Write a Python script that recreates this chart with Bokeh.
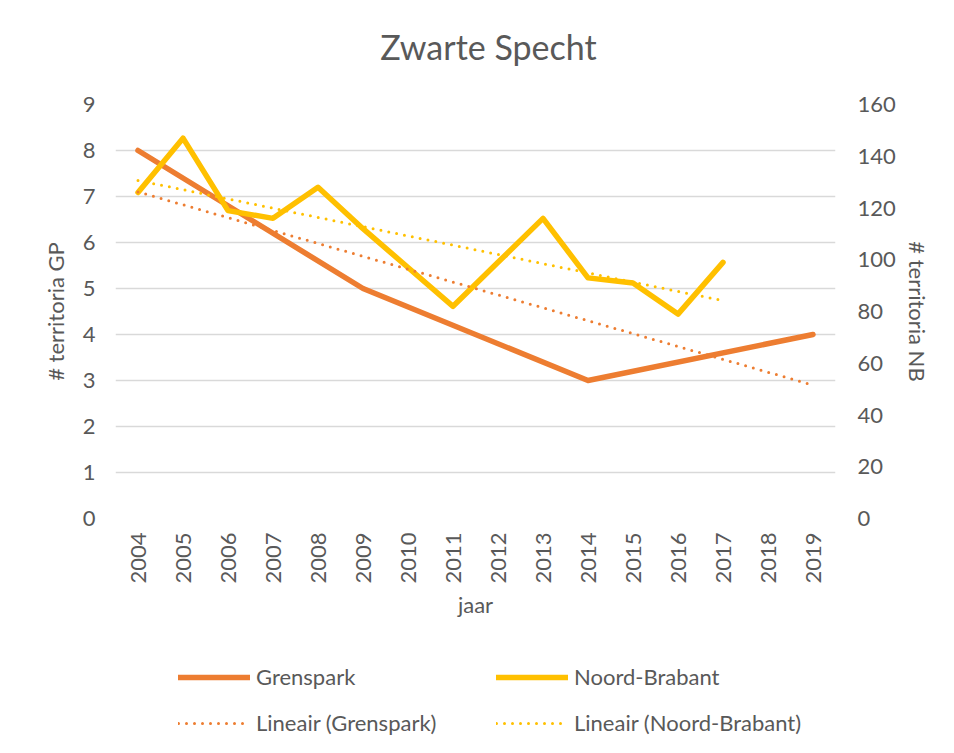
import math
import numpy as np
from bokeh.plotting import figure
from bokeh.layouts import column
from bokeh.models import Range1d, LinearAxis, FixedTicker, Legend, LegendItem, Label
from bokeh.embed import file_html
from bokeh.resources import INLINE

# ---- data ----
chart_title = "Zwarte Specht"
x_title = "jaar"
left_title = "# territoria GP"
right_title = "# territoria NB"
years = list(range(2004, 2020))
gp_years = [2004, 2009, 2014, 2019]
gp_values = [8, 5, 3, 4]
nb_years = list(range(2004, 2018))
nb_values = [126, 147, 119, 116, 128, 112, 97, 82, 99, 116, 93, 91, 79, 99]
left_ticks = list(range(0, 10))
right_ticks = list(range(0, 161, 20))
series_names = ["Grenspark", "Noord-Brabant"]
trend_names = ["Lineair (Grenspark)", "Lineair (Noord-Brabant)"]

# ---- style ----
GP_COLOR = "#ED7D31"
NB_COLOR = "#FFC000"
TEXT = "#595959"
GRID = "#D9D9D9"
FONT = "Lato"
FS = "22px"
SERIES_STYLE = dict(line_width=5.5, line_cap="round", line_join="round")
TREND_STYLE = dict(line_width=3, line_dash="0 8", line_cap="round")
FULL_W = 938
BORDER_L, BORDER_R = 115, 103


def blank_strip(height):
    f = figure(width=FULL_W, height=height, output_backend="svg", toolbar_location=None,
               x_range=Range1d(0, 1), y_range=Range1d(0, 1),
               min_border_left=BORDER_L, min_border_right=BORDER_R,
               min_border_top=0, min_border_bottom=0,
               x_axis_type=None, y_axis_type=None)
    f.outline_line_color = None
    f.xgrid.grid_line_color = None
    f.ygrid.grid_line_color = None
    f.background_fill_color = "white"
    f.border_fill_color = "white"
    return f


# ---- title strip ----
TITLE_H = 80
t = blank_strip(TITLE_H)
t.add_layout(Label(x=0.518, y=(TITLE_H - 46) / TITLE_H, text=chart_title,
                   text_font=FONT, text_font_size="34px", text_color=TEXT,
                   text_align="center", text_baseline="alphabetic"))

# ---- main chart ----
p = figure(frame_width=720, frame_height=414, output_backend="svg", toolbar_location=None,
           x_range=Range1d(years[0] - 0.5, years[-1] + 0.5),
           y_range=Range1d(left_ticks[0], left_ticks[-1]),
           min_border_left=BORDER_L, min_border_right=BORDER_R,
           min_border_top=104 - TITLE_H, min_border_bottom=122)
p.extra_y_ranges = {"nb": Range1d(right_ticks[0], right_ticks[-1])}
p.outline_line_color = None
p.background_fill_color = "white"
p.border_fill_color = "white"


def style_axis(ax, label, standoff_lbl, standoff_ax):
    ax.axis_label = label
    ax.axis_label_text_font = FONT
    ax.axis_label_text_font_size = FS
    ax.axis_label_text_font_style = "normal"
    ax.axis_label_text_color = TEXT
    ax.major_label_text_font = FONT
    ax.major_label_text_font_size = FS
    ax.major_label_text_color = TEXT
    ax.axis_line_color = None
    ax.major_tick_line_color = None
    ax.minor_tick_line_color = None
    ax.major_tick_out = 0
    ax.major_tick_in = 0
    ax.major_label_standoff = standoff_lbl
    ax.axis_label_standoff = standoff_ax


xax = p.xaxis[0]
xax.ticker = FixedTicker(ticks=years)
style_axis(xax, x_title, 14, 4)
xax.major_label_orientation = math.pi / 2

yax = p.yaxis[0]
yax.ticker = FixedTicker(ticks=left_ticks)
style_axis(yax, left_title, 20, 11)

rax = LinearAxis(y_range_name="nb", ticker=FixedTicker(ticks=right_ticks))
style_axis(rax, right_title, 22, 5)
p.add_layout(rax, "right")

p.xgrid.grid_line_color = None
p.ygrid.grid_line_color = GRID
p.ygrid.grid_line_width = 1.3
p.ygrid.ticker = FixedTicker(ticks=left_ticks)

# trendlines (least squares, like Excel "Lineair")
gp_fit = np.polyfit(gp_years, gp_values, 1)
nb_fit = np.polyfit(nb_years, nb_values, 1)
gp_tx = [gp_years[0], gp_years[-1]]
nb_tx = [nb_years[0], nb_years[-1]]
gp_ty = list(np.polyval(gp_fit, gp_tx))
nb_ty = list(np.polyval(nb_fit, nb_tx))

p.line(gp_years, gp_values, line_color=GP_COLOR, **SERIES_STYLE)
p.line(nb_years, nb_values, y_range_name="nb", line_color=NB_COLOR, **SERIES_STYLE)
p.line(gp_tx, gp_ty, line_color=GP_COLOR, **TREND_STYLE)
p.line(nb_tx, nb_ty, y_range_name="nb", line_color=NB_COLOR, **TREND_STYLE)

# ---- legend strip (its line renderers fall outside its 0..1 ranges, only the legend shows) ----
q = blank_strip(105)
l_gp = q.line(gp_years, gp_values, line_color=GP_COLOR, **SERIES_STYLE)
l_nb = q.line(nb_years, nb_values, line_color=NB_COLOR, **SERIES_STYLE)
l_gpt = q.line(gp_tx, gp_ty, line_color=GP_COLOR, **TREND_STYLE)
l_nbt = q.line(nb_tx, nb_ty, line_color=NB_COLOR, **TREND_STYLE)


def make_legend(items, loc):
    lg = Legend(items=items, orientation="vertical", location=loc)
    lg.label_text_font = FONT
    lg.label_text_font_size = FS
    lg.label_text_color = TEXT
    lg.glyph_width = 72
    lg.glyph_height = 26
    lg.label_height = 26
    lg.label_standoff = 6
    lg.spacing = 19
    lg.padding = 0
    lg.margin = 0
    lg.border_line_color = None
    lg.background_fill_alpha = 0
    return lg


q.add_layout(make_legend([LegendItem(label=series_names[0], renderers=[l_gp]),
                          LegendItem(label=trend_names[0], renderers=[l_gpt])],
                         (178 - BORDER_L, 9)))
q.add_layout(make_legend([LegendItem(label=series_names[1], renderers=[l_nb]),
                          LegendItem(label=trend_names[1], renderers=[l_nbt])],
                         (496 - BORDER_L, 9)))

layout = column(t, p, q, spacing=0)
open("out.html", "w").write(file_html(layout, INLINE))
